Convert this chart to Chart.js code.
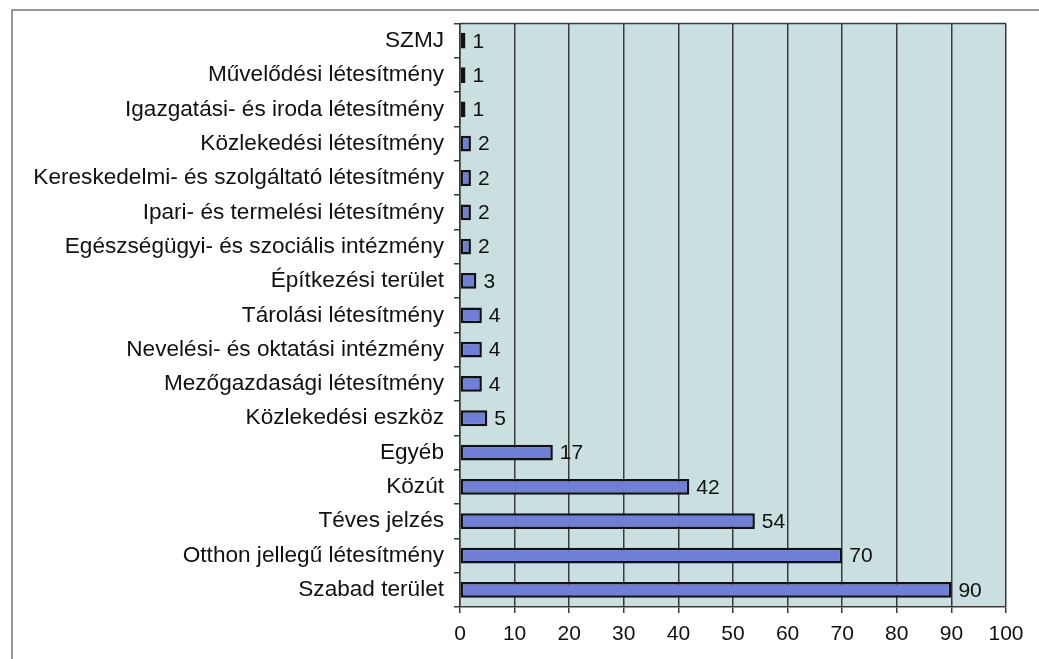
<!DOCTYPE html>
<html>
<head>
<meta charset="utf-8">
<script src="https://cdn.jsdelivr.net/npm/chart.js"></script>
<style>
  html, body { margin: 0; padding: 0; background: #ffffff; }
  #wrap { width: 1039px; height: 659px; position: relative; }
</style>
</head>
<body>
<div id="wrap"><canvas id="fireChart"></canvas></div>
<script>
// categories, top to bottom
const categories = [
  'SZMJ',
  'Művelődési létesítmény',
  'Igazgatási- és iroda létesítmény',
  'Közlekedési létesítmény',
  'Kereskedelmi- és szolgáltató létesítmény',
  'Ipari- és termelési létesítmény',
  'Egészségügyi- és szociális intézmény',
  'Építkezési terület',
  'Tárolási létesítmény',
  'Nevelési- és oktatási intézmény',
  'Mezőgazdasági létesítmény',
  'Közlekedési eszköz',
  'Egyéb',
  'Közút',
  'Téves jelzés',
  'Otthon jellegű létesítmény',
  'Szabad terület'
];
const counts = [1, 1, 1, 2, 2, 2, 2, 3, 4, 4, 4, 5, 17, 42, 54, 70, 90];
const xTicks = [0, 10, 20, 30, 40, 50, 60, 70, 80, 90, 100];

const FONT = '"Liberation Sans", Arial, sans-serif';

// plot background + frame around the whole picture
const backdrop = {
  id: 'backdrop',
  beforeDraw(chart) {
    const { ctx, chartArea: a } = chart;
    ctx.save();
    ctx.fillStyle = '#c9dfe0';
    ctx.fillRect(a.left, a.top, a.right - a.left, a.bottom - a.top);
    ctx.restore();
  },
  afterDraw(chart) {
    const { ctx, chartArea: a } = chart;
    ctx.save();
    ctx.strokeStyle = '#3a3a3a';
    ctx.lineWidth = 1.5;
    ctx.beginPath();
    ctx.moveTo(a.left, a.top);
    ctx.lineTo(a.right, a.top);
    ctx.stroke();
    // outer frame
    ctx.strokeStyle = '#777';
    ctx.lineWidth = 1.5;
    ctx.beginPath();
    ctx.moveTo(12, chart.height);
    ctx.lineTo(12, 10);
    ctx.lineTo(chart.width, 10);
    ctx.stroke();
    ctx.restore();
  }
};

// value labels at the bar ends
const valueLabels = {
  id: 'valueLabels',
  afterDatasetsDraw(chart) {
    const { ctx } = chart;
    const meta = chart.getDatasetMeta(0);
    ctx.save();
    ctx.font = '21px ' + FONT;
    ctx.fillStyle = '#111';
    ctx.textBaseline = 'middle';
    meta.data.forEach((bar, i) => {
      ctx.fillText(String(counts[i]), bar.x + 7, bar.y + 1);
    });
    ctx.restore();
  }
};

new Chart(document.getElementById('fireChart'), {
  type: 'bar',
  data: {
    labels: categories,
    datasets: [{
      data: counts,
      backgroundColor: '#6f7fd8',
      borderColor: '#111',
      borderWidth: 2.5,
      borderSkipped: false,
      categoryPercentage: 1,
      barPercentage: 0.46
    }]
  },
  options: {
    indexAxis: 'y',
    responsive: true,
    maintainAspectRatio: false,
    animation: false,
    layout: { padding: { left: 0, right: 33, top: 22, bottom: 0 } },
    plugins: {
      legend: { display: false },
      tooltip: { enabled: false }
    },
    scales: {
      x: {
        min: 0,
        max: 100,
        afterBuildTicks(scale) {
          scale.ticks = xTicks.map(v => ({ value: v }));
        },
        afterFit(scale) { scale.height = 52; },
        grid: { color: '#3a3a3a', lineWidth: 1.5, tickLength: 6 },
        border: { color: '#3a3a3a', width: 1.5 },
        ticks: { color: '#111', font: { family: FONT, size: 21 }, padding: 9 }
      },
      y: {
        afterFit(scale) { scale.width = 460; },
        grid: { drawOnChartArea: false, color: '#3a3a3a', lineWidth: 1.5, tickLength: 6 },
        border: { color: '#3a3a3a', width: 1.5 },
        ticks: { color: '#111', font: { family: FONT, size: 22.6 }, padding: 10, autoSkip: false }
      }
    }
  },
  plugins: [backdrop, valueLabels]
});
</script>
</body>
</html>
